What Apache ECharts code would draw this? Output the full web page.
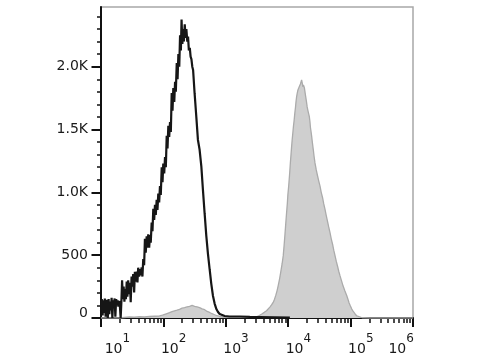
<!DOCTYPE html>
<html><head><meta charset="utf-8">
<script src="https://cdn.jsdelivr.net/npm/echarts@6/dist/echarts.min.js"></script>
<style>html,body{margin:0;padding:0;background:#fff}#c{width:480px;height:360px}</style>
</head><body><div id="c"></div>
<script>
// x values are log10 of fluorescence intensity; y values are event counts
const decades = [1, 2, 3, 4, 5, 6];
const yTicks = [0, 500, 1000, 1500, 2000];
const yTickLabels = ['0', '500', '1.0K', '1.5K', '2.0K'];

const stainedLog = [1.000,1.013,1.026,1.037,1.050,1.061,1.074,1.085,1.098,1.109,1.122,1.133,1.146,1.158,1.170,1.182,1.195,1.206,1.219,1.230,1.243,1.254,1.267,1.278,1.291,1.302,1.315,1.326,1.338,1.350,1.363,1.375,1.387,1.399,1.412,1.423,1.436,1.450,1.463,1.476,1.490,1.503,1.516,1.531,1.543,1.556,1.571,1.584,1.596,1.611,1.624,1.637,1.651,1.664,1.677,1.691,1.704,1.717,1.732,1.744,1.757,1.772,1.785,1.797,1.812,1.825,1.838,1.852,1.865,1.878,1.892,1.905,1.918,1.932,1.945,1.958,1.973,1.986,1.998,2.013,2.026,2.039,2.053,2.066,2.079,2.093,2.106,2.119,2.133,2.146,2.159,2.174,2.187,2.199,2.214,2.227,2.240,2.254,2.267,2.280,2.291,2.304,2.315,2.328,2.342,2.355,2.368,2.383,2.395,2.408,2.423,2.436,2.449,2.463,2.476,2.500,2.527,2.553,2.580,2.608,2.633,2.661,2.688,2.714,2.741,2.768,2.794,2.821,2.849,2.875,2.902,2.934,2.982,3.063,3.224,3.385,3.546,3.786,4.027];
const stainedCount = [60,150,20,140,40,155,10,145,60,0,150,30,130,60,160,0,140,110,155,10,150,120,140,90,135,100,0,120,300,150,250,130,230,150,290,170,300,190,280,125,330,250,349,204,367,290,370,283,400,330,388,340,402,330,470,420,630,520,650,560,666,560,660,600,760,690,870,780,900,820,940,860,990,920,1050,980,1200,1080,1230,1150,1280,1200,1450,1350,1530,1440,1560,1480,1790,1650,1830,1720,1880,1800,2030,1900,2100,2000,2250,2130,2376,2180,2300,2200,2338,2230,2300,2200,2240,2130,2150,2080,2060,2000,1974,1789,1604,1419,1340,1207,1023,830,652,510,388,270,177,115,71,48,32,20,16,12,12,9,8,6,4];

const controlLog = [1.000,1.294,1.375,1.455,1.535,1.616,1.696,1.777,1.857,1.937,1.986,2.018,2.058,2.098,2.138,2.178,2.219,2.259,2.299,2.339,2.379,2.420,2.460,2.500,2.540,2.580,2.621,2.661,2.701,2.741,2.781,2.821,2.862,2.902,2.982,3.063,3.143,3.224,3.304,3.385,3.433,3.492,3.537,3.577,3.617,3.653,3.682,3.706,3.733,3.759,3.781,3.802,3.822,3.839,3.862,3.883,3.902,3.920,3.934,3.947,3.960,3.974,3.986,3.995,4.006,4.016,4.026,4.035,4.045,4.055,4.064,4.076,4.085,4.096,4.106,4.116,4.125,4.135,4.145,4.156,4.166,4.177,4.186,4.196,4.206,4.215,4.225,4.236,4.244,4.252,4.260,4.268,4.279,4.293,4.304,4.317,4.328,4.338,4.349,4.357,4.367,4.376,4.389,4.402,4.415,4.429,4.449,4.469,4.490,4.510,4.529,4.550,4.569,4.590,4.610,4.630,4.649,4.670,4.690,4.711,4.730,4.751,4.770,4.791,4.810,4.831,4.855,4.880,4.909,4.939,4.960,4.976,4.997,5.019,5.045,5.072,5.100,5.125,5.185,5.314,6.000];
const controlCount = [0,0,4,8,6,10,8,12,14,16,22,28,35,42,50,56,62,68,78,82,88,92,100,92,88,82,72,66,52,44,34,26,18,12,6,6,8,6,8,10,8,10,20,32,45,58,72,87,104,124,150,182,218,256,312,373,430,494,575,658,745,838,910,983,1040,1102,1170,1237,1300,1366,1420,1482,1530,1577,1630,1673,1720,1762,1790,1815,1800,1841,1830,1863,1850,1895,1870,1839,1855,1863,1830,1815,1765,1720,1680,1649,1625,1604,1560,1514,1480,1445,1390,1340,1285,1234,1180,1134,1090,1049,1000,959,910,864,815,769,725,679,630,587,540,494,452,412,372,335,295,254,215,177,145,119,95,71,50,32,16,5,2,0,0];

const pair = (xs, ys) => xs.map((x, i) => [x, ys[i]]);

const xMinor = [];
decades.slice(0, -1).forEach(d => { for (let k = 2; k <= 9; k++) xMinor.push(d + Math.log10(k)); });
const yMinor = [];
for (let v = 100; v <= 2400; v += 100) if (v % 500 !== 0) yMinor.push(v);

const font = 'DejaVu Sans';
const txt = '#1a1a1a';
const Y_MAX = 2475;

const chart = echarts.init(document.getElementById('c'), null, {renderer: 'canvas'});
chart.setOption({
  animation: false,
  backgroundColor: '#fff',
  grid: {left: 101, right: 67, top: 7, bottom: 42, show: true, borderColor: '#a8a8a8', borderWidth: 1.5, backgroundColor: 'transparent'},
  xAxis: [{
    type: 'value', min: 1, max: 6, interval: 1, position: 'bottom',
    axisLine: {show: true, onZero: false, lineStyle: {color: '#111', width: 2}},
    axisTick: {show: true, length: 9, lineStyle: {color: '#111', width: 2}},
    splitLine: {show: false},
    axisLabel: {
      margin: 15, color: txt, fontFamily: font,
      formatter: v => {
        if (v === 1) return '{spA| }{b|10}{s|1}';
        if (v === 6) return '{b|10}{s|6}{spR| }';
        return '{spB| }{b|10}{s|' + v + '}';
      },
      rich: {
        b: {fontSize: 14, fontFamily: font, color: txt, lineHeight: 23, verticalAlign: 'bottom'},
        s: {fontSize: 12, fontFamily: font, color: txt, lineHeight: 10, verticalAlign: 'top'},
        spA: {width: 32.8, lineHeight: 23, fontSize: 12},
        spB: {width: 20.4, lineHeight: 23, fontSize: 12},
        spR: {width: 23.8, lineHeight: 23, fontSize: 12}
      }
    }
  }, {
    type: 'value', min: 1, max: 6, position: 'bottom',
    axisLine: {show: false},
    axisLabel: {show: false},
    splitLine: {show: false},
    axisTick: {show: true, length: 5, customValues: xMinor, lineStyle: {color: '#111', width: 1.5}}
  }],
  yAxis: [{
    type: 'value', min: 0, max: Y_MAX, position: 'left',
    axisLine: {show: true, onZero: false, lineStyle: {color: '#111', width: 2}},
    axisTick: {show: true, length: 9.5, customValues: yTicks, lineStyle: {color: '#111', width: 2}},
    splitLine: {show: false},
    axisLabel: {
      customValues: yTicks, margin: 13, color: txt, fontFamily: font, fontSize: 14,
      formatter: v => {
        const i = yTicks.indexOf(v);
        const t = i >= 0 ? yTickLabels[i] : '';
        return v === 0 ? '{z|' + t + '}' : t;
      },
      rich: {z: {fontSize: 14, fontFamily: font, color: txt, padding: [0, 0, 10, 0]}}
    }
  }, {
    type: 'value', min: 0, max: Y_MAX, position: 'left',
    axisLine: {show: false},
    axisLabel: {show: false},
    splitLine: {show: false},
    axisTick: {show: true, length: 4, customValues: yMinor, lineStyle: {color: '#111', width: 1.5}}
  }],
  series: [{
    name: 'Control', type: 'line', xAxisIndex: 0, yAxisIndex: 0,
    data: pair(controlLog, controlCount),
    showSymbol: false, symbol: 'none', smooth: false,
    lineStyle: {color: '#ababab', width: 1.3},
    areaStyle: {color: '#cfcfcf', opacity: 1},
    z: 2
  }, {
    name: 'Stained', type: 'line', xAxisIndex: 0, yAxisIndex: 0,
    data: pair(stainedLog, stainedCount),
    showSymbol: false, symbol: 'none', smooth: false,
    lineStyle: {color: '#161616', width: 2.2},
    z: 3
  }]
});
</script>
</body></html>
